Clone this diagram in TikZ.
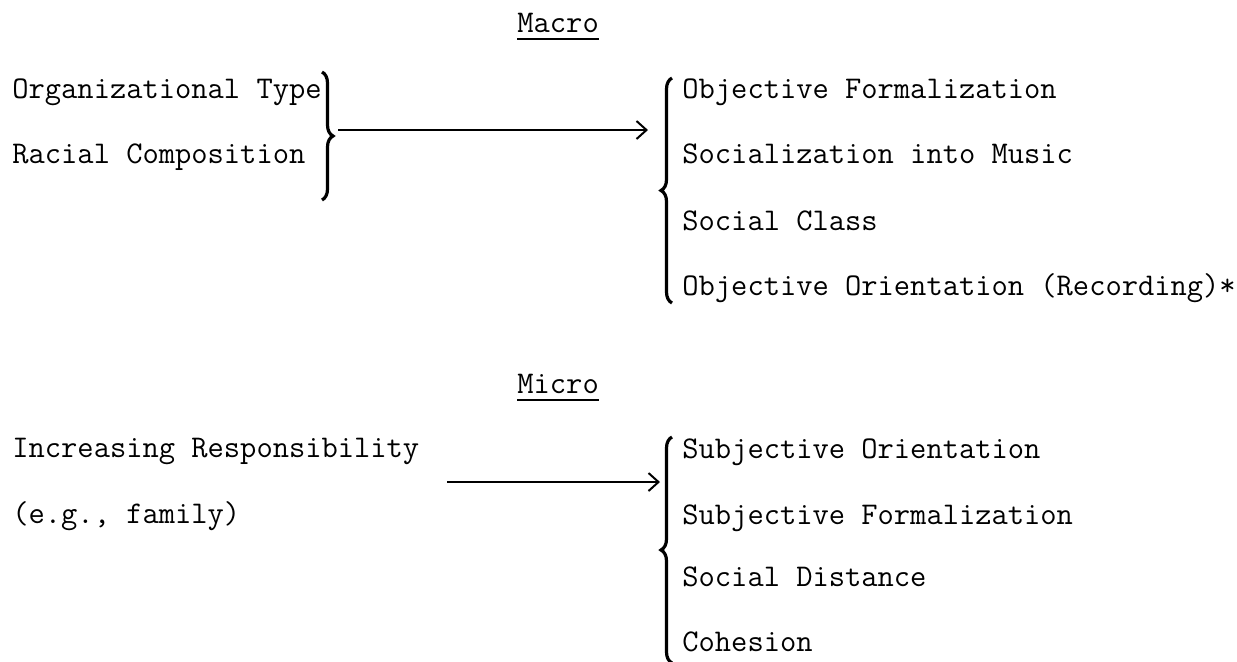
\documentclass[tikz,border=0pt]{standalone}
\usetikzlibrary{positioning, arrows.meta, decorations.pathreplacing}

\begin{document}
\begin{tikzpicture}[x=0.5pt, y=-0.5pt, font=\ttfamily\fontsize{15.8}{18}\selectfont]
\tikzstyle{item}=[anchor=base west, inner sep=0pt]
\tikzstyle{level}=[item]
\tikzstyle{uline}=[line width=1pt]
\tikzstyle{curly}=[decorate, decoration={brace, amplitude=5.5pt}, line width=1.6pt]
\tikzstyle{link}=[-{Straight Barb[length=5pt, width=9pt]}, line width=1pt]
\useasboundingbox (0,0) rectangle (1237,661);
% macro level
\node[level] (macro) at (517,32) {Macro};
\draw[uline] ([yshift=-3.5pt]macro.base west) -- ([yshift=-3.5pt]macro.base east);
\node[item] (orgtype) at (12,98) {Organizational Type};
\node[item] (racial) at (12,163) {Racial Composition};
\draw[curly] (322,72) -- (322,200);
\node[item] (objform) at (682,98) {Objective Formalization};
\node[item] (socmusic) at (682,163) {Socialization into Music};
\node[item] (socclass) at (682,230) {Social Class};
\node[item] (objorient) at (682,295) {Objective Orientation (Recording)*};
\draw[curly] (672,303) -- (672,78);
\coordinate (macrofrom) at (338,130);
\coordinate (macroto) at (648,130);
\draw[link] (macrofrom) -- (macroto);
% micro level
\node[level] (micro) at (517,393) {Micro};
\draw[uline] ([yshift=-3.5pt]micro.base west) -- ([yshift=-3.5pt]micro.base east);
\node[item] (resp) at (12,457) {Increasing Responsibility};
\node[item] (family) at (12,523) {(e.g., family)};
\node[item] (subjorient) at (682,458) {Subjective Orientation};
\node[item] (subjform) at (682,524) {Subjective Formalization};
\node[item] (socdist) at (682,586) {Social Distance};
\node[item] (cohesion) at (682,651) {Cohesion};
\draw[curly] (672,663) -- (672,437);
\coordinate (microfrom) at (447,482);
\coordinate (microto) at (660,482);
\draw[link] (microfrom) -- (microto);
\end{tikzpicture}
\end{document}
